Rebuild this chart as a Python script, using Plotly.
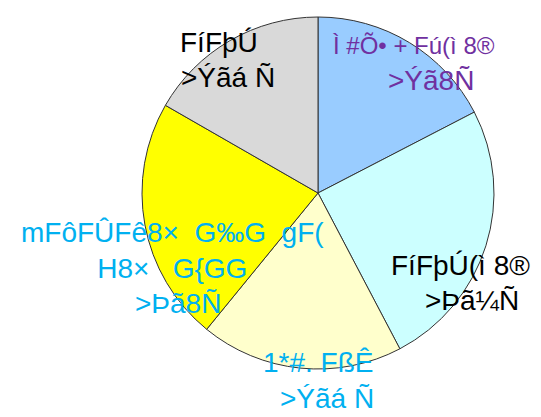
import plotly.graph_objects as go

# Data (clockwise from 12 o'clock)
categories = ["Ì #Õ• + Fú(ì 8®", "FíFþÚ(ì 8®", "1*#. FßÊ", "mFôFÛFê8×  G‰G  gF(<br>H8×   G{GG", "FíFþÚ"]
values = [17.4, 24.9, 18.6, 22.4, 16.7]
pct_labels = [">Ýã8Ñ", ">Þã¼Ñ", ">Ýãá Ñ", ">Þã8Ñ", ">Ýãá Ñ"]
slice_colors = ["#99ccff", "#ccffff", "#ffffcc", "#ffff00", "#d9d9d9"]
label_colors = ["#7030a0", "#000000", "#00b0f0", "#00b0f0", "#000000"]

W, H = 541, 417
cx, cy, r = 318, 193, 176

fig = go.Figure(go.Pie(
    labels=categories,
    values=values,
    sort=False,
    direction="clockwise",
    rotation=0,
    marker=dict(colors=slice_colors, line=dict(color="#333333", width=1)),
    textinfo="none",
    hoverinfo="none",
    showlegend=False,
    domain=dict(x=[(cx - r) / W, (cx + r) / W], y=[(H - cy - r) / H, (H - cy + r) / H]),
))

# label positions (pixel centres) for name and percentage lines
name_pos = [(414, 45), (460, 265), (318, 362), (172, 250), (219, 42)]
pct_pos = [(431, 80), (472, 300), (327, 398), (178, 303), (228, 78)]
name_sizes = [24, 28, 28, 28, 28]

ann = []
for i in range(len(categories)):
    for txt, (px, py), fs in ((categories[i], name_pos[i], name_sizes[i]), (pct_labels[i], pct_pos[i], 28)):
        ann.append(dict(
            text=txt, x=px / W, y=1 - py / H, xref="paper", yref="paper",
            xanchor="center", yanchor="middle", showarrow=False, align="center",
            font=dict(family="Liberation Sans, Arial, sans-serif", size=fs, color=label_colors[i]),
        ))

fig.update_layout(
    width=W, height=H,
    margin=dict(l=0, r=0, t=0, b=0),
    paper_bgcolor="white", plot_bgcolor="white",
    annotations=ann,
)

fig.write_html("out.html", config={"displayModeBar": False},
               post_script="document.body.style.margin='0';document.body.style.overflow='hidden';")
